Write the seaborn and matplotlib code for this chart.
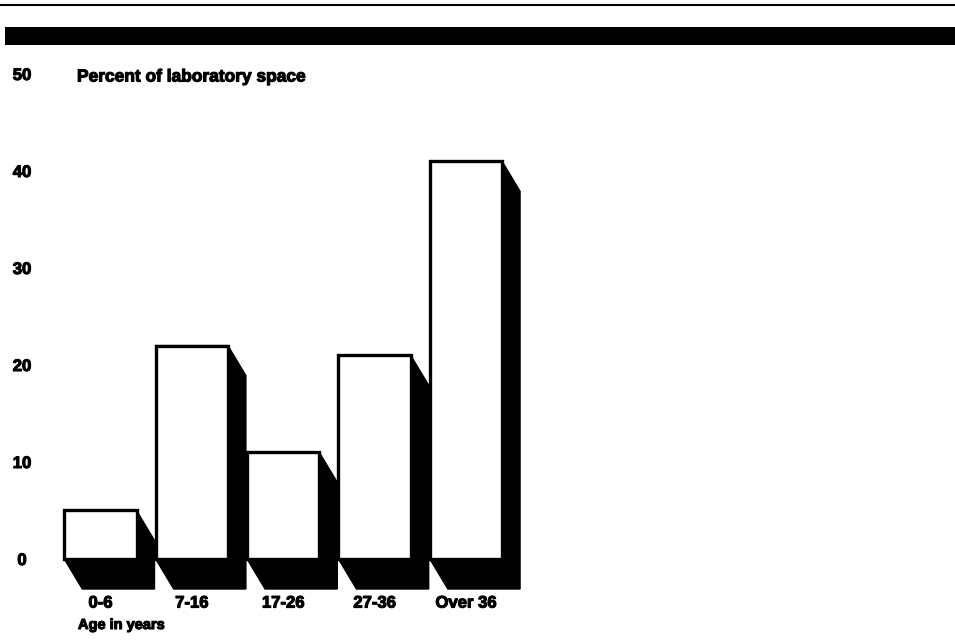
import matplotlib
matplotlib.use("Agg")
import matplotlib.pyplot as plt
from matplotlib.patches import Polygon, Rectangle
from matplotlib.lines import Line2D
import matplotlib.patheffects as pe
import seaborn as sns
import pandas as pd

# Share of laboratory space by building age
age_groups = ["0-6", "7-16", "17-26", "27-36", "Over 36"]
percent_space = [5, 22, 11, 21, 41]
y_ticks = [0, 10, 20, 30, 40, 50]
y_tick_labels = ["0", "10", "20", "30", "40", "50"]

sns.set_theme(style="white")
plt.rcParams["font.family"] = ["Liberation Sans", "DejaVu Sans"]
plt.rcParams["font.weight"] = "bold"
plt.rcParams["text.color"] = "black"
plt.rcParams["xtick.color"] = "black"
plt.rcParams["ytick.color"] = "black"

# slightly heavier strokes for the bold lettering
heavy = [pe.withStroke(linewidth=0.8, foreground="black")]

W, H = 955, 640
fig = plt.figure(figsize=(W / 100, H / 100), dpi=100)
fig.patch.set_facecolor("white")

# axes placement in pixels: left, bottom, right, top
ax_l, ax_b, ax_r, ax_t = 40, 590, 560, 60
ax = fig.add_axes([ax_l / W, 1 - ax_b / H, (ax_r - ax_l) / W, (ax_b - ax_t) / H])

df = pd.DataFrame({"age": age_groups, "pct": percent_space})
sns.barplot(data=df, x="age", y="pct", color="white", edgecolor="black",
            linewidth=2.4, width=0.79, saturation=1, ax=ax, zorder=3)

xlim = (-0.661, 5.029)
ylim = (-3.196, 51.44)
ax.set_xlim(*xlim)
ax.set_ylim(*ylim)

# depth of the extruded shadow, in pixels, converted to data units
px_x = (ax_r - ax_l) / (xlim[1] - xlim[0])
px_y = (ax_b - ax_t) / (ylim[1] - ylim[0])
dx = 18 / px_x
dy = 30 / px_y

for bar in ax.patches:
    x0 = bar.get_x()
    x1 = x0 + bar.get_width()
    h = bar.get_height()
    verts = [(x0, h), (x1, h), (x1 + dx, h - dy), (x1 + dx, -dy),
             (x0 + dx, -dy), (x0, 0)]
    ax.add_patch(Polygon(verts, closed=True, facecolor="black",
                         edgecolor="black", linewidth=1, zorder=2))
    bar.set_zorder(3)

for s in ax.spines.values():
    s.set_visible(False)
ax.set_xlabel("")
ax.set_ylabel("")

ax.set_yticks(y_ticks)
ax.set_yticklabels(y_tick_labels, fontsize=12, fontweight="bold", ha="center")
ax.tick_params(axis="y", length=0, pad=13)
ax.set_xticks(range(len(age_groups)))
ax.set_xticklabels(age_groups, fontsize=12, fontweight="bold")
ax.tick_params(axis="x", length=0, pad=4)
for lab in ax.get_xticklabels() + ax.get_yticklabels():
    lab.set_path_effects(heavy)

fig.text(77 / W, 1 - 77 / H, "Percent of laboratory space", fontsize=12.5,
         fontweight="bold", va="center", ha="left", path_effects=heavy)
fig.text(78 / W, 1 - 625 / H, "Age in years", fontsize=10.5,
         fontweight="bold", va="center", ha="left", path_effects=heavy)

# header rule and black band
fig.add_artist(Line2D([0, 1], [1 - 5 / H, 1 - 5 / H], color="black", lw=1.5))
fig.add_artist(Rectangle((5 / W, 1 - 45 / H), 1, 18 / H, facecolor="black",
                         edgecolor="none", transform=fig.transFigure))

fig.savefig("out.png", dpi=100, facecolor="white")
